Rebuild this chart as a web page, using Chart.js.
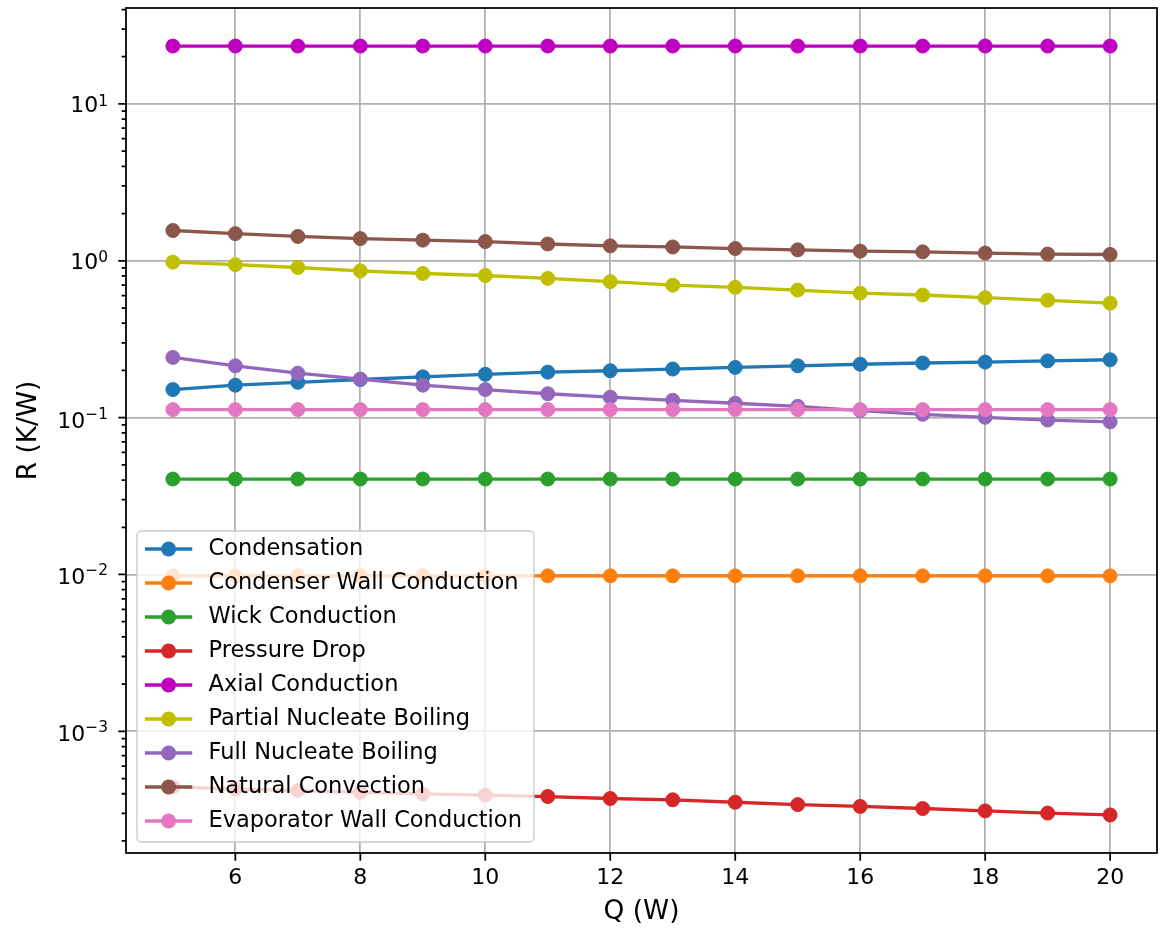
<!DOCTYPE html>
<html>
<head>
<meta charset="utf-8">
<script src="https://cdn.jsdelivr.net/npm/chart.js@4.4.1/dist/chart.umd.min.js"></script>
<style>
  body { margin: 0; background: #fff; }
  canvas { display: block; }
</style>
</head>
<body>
<canvas id="myChart" width="1171" height="928"></canvas>
<script>
// heat load Q (W)
var heatLoad = [5, 6, 7, 8, 9, 10, 11, 12, 13, 14, 15, 16, 17, 18, 19, 20];

// thermal resistances R (K/W)
var condensation = [0.151, 0.161, 0.168, 0.175, 0.182, 0.189, 0.195, 0.199, 0.204, 0.209, 0.214, 0.219, 0.223, 0.226, 0.230, 0.234];
var condenserWall = [0.0098, 0.0098, 0.0098, 0.0098, 0.0098, 0.0098, 0.0098, 0.0098, 0.0098, 0.0098, 0.0098, 0.0098, 0.0098, 0.0098, 0.0098, 0.0098];
var wickConduction = [0.0406, 0.0406, 0.0406, 0.0406, 0.0406, 0.0406, 0.0406, 0.0406, 0.0406, 0.0406, 0.0406, 0.0406, 0.0406, 0.0406, 0.0406, 0.0406];
var pressureDrop = [4.42e-4, 4.29e-4, 4.19e-4, 4.09e-4, 3.99e-4, 3.92e-4, 3.84e-4, 3.73e-4, 3.66e-4, 3.53e-4, 3.41e-4, 3.32e-4, 3.22e-4, 3.11e-4, 3.01e-4, 2.93e-4];
var axialConduction = [23.4, 23.4, 23.4, 23.4, 23.4, 23.4, 23.4, 23.4, 23.4, 23.4, 23.4, 23.4, 23.4, 23.4, 23.4, 23.4];
var partialBoiling = [0.98, 0.945, 0.906, 0.862, 0.830, 0.806, 0.772, 0.736, 0.699, 0.677, 0.651, 0.622, 0.605, 0.582, 0.560, 0.537];
var fullBoiling = [0.242, 0.214, 0.192, 0.176, 0.161, 0.151, 0.142, 0.135, 0.129, 0.1235, 0.118, 0.111, 0.105, 0.1005, 0.0965, 0.094];
var naturalConvection = [1.56, 1.49, 1.43, 1.385, 1.354, 1.326, 1.28, 1.245, 1.225, 1.197, 1.174, 1.152, 1.14, 1.12, 1.103, 1.097];
var evaporatorWall = [0.1125, 0.1125, 0.1125, 0.1125, 0.1125, 0.1125, 0.1125, 0.1125, 0.1125, 0.1125, 0.1125, 0.1125, 0.1125, 0.1125, 0.1125, 0.1125];

var seriesNames = ['Condensation', 'Condenser Wall Conduction', 'Wick Conduction', 'Pressure Drop',
  'Axial Conduction', 'Partial Nucleate Boiling', 'Full Nucleate Boiling', 'Natural Convection',
  'Evaporator Wall Conduction'];
var seriesValues = [condensation, condenserWall, wickConduction, pressureDrop, axialConduction,
  partialBoiling, fullBoiling, naturalConvection, evaporatorWall];
var seriesColors = ['#1f77b4', '#ff7f0e', '#2ca02c', '#d62728', '#bf00bf', '#bfbf00', '#9467bd', '#8c564b', '#e377c2'];

// axis ticks
var xTickValues = [6, 8, 10, 12, 14, 16, 18, 20];
var yDecades = [1e-4, 1e-3, 1e-2, 1e-1, 1, 10];
var yExponents = ['\u22124', '\u22123', '\u22122', '\u22121', '0', '1'];
var yMinorSteps = [2, 3, 4, 5, 6, 7, 8, 9];

var X_MIN = 4.25, X_MAX = 20.75;
var Y_MIN = 1.676e-4, Y_MAX = 40.9;
var FONT = "'DejaVu Sans', sans-serif";

Chart.defaults.font.family = FONT;
Chart.defaults.color = '#000';

function isMajor(v) {
  var l = Math.log10(v);
  return Math.abs(l - Math.round(l)) < 1e-6;
}

var yTickValues = [];
yDecades.forEach(function (d) {
  if (d >= Y_MIN && d <= Y_MAX) yTickValues.push(d);
  yMinorSteps.forEach(function (m) {
    var v = d * m;
    if (v >= Y_MIN && v <= Y_MAX) yTickValues.push(v);
  });
});

var datasets = seriesNames.map(function (name, i) {
  return {
    label: name,
    data: heatLoad.map(function (q, j) { return { x: q, y: seriesValues[i][j] }; }),
    borderColor: seriesColors[i],
    backgroundColor: seriesColors[i],
    pointBackgroundColor: seriesColors[i],
    pointBorderColor: seriesColors[i],
    borderWidth: 3.3,
    borderJoinStyle: 'round',
    pointRadius: 7,
    pointBorderWidth: 1,
    tension: 0,
    order: seriesNames.length - i
  };
});

var mplLook = {
  id: 'mplLook',
  afterDatasetsDraw: function (chart) {
    var c = chart.ctx, a = chart.chartArea;
    var xs = chart.scales.x, ys = chart.scales.y;
    c.save();

    // spines
    c.strokeStyle = '#000';
    c.lineWidth = 1.76;
    c.strokeRect(a.left, a.top, a.right - a.left, a.bottom - a.top);

    // tick marks
    c.beginPath();
    xTickValues.forEach(function (v) {
      var px = xs.getPixelForValue(v);
      c.moveTo(px, a.bottom);
      c.lineTo(px, a.bottom + 7.7);
    });
    ys.ticks.forEach(function (t) {
      var py = ys.getPixelForValue(t.value);
      c.moveTo(a.left, py);
      c.lineTo(a.left - (isMajor(t.value) ? 7.7 : 4.4), py);
    });
    c.stroke();

    // y tick labels 10^n
    c.fillStyle = '#000';
    c.textAlign = 'right';
    c.textBaseline = 'alphabetic';
    yDecades.forEach(function (d, i) {
      if (d < Y_MIN || d > Y_MAX) return;
      var py = ys.getPixelForValue(d);
      var exp = yExponents[i];
      var neg = exp.charAt(0) === '\u2212';
      var right = 108;
      c.font = '15.4px ' + FONT;
      var supW = c.measureText(exp).width;
      c.fillText(exp, right, py + (neg ? 1 : 1.7));
      c.font = '22px ' + FONT;
      c.fillText('10', right - supW, py + (neg ? 10 : 8.2));
    });

    // legend
    c.font = '22.5px ' + FONT;
    var maxW = 0;
    seriesNames.forEach(function (n) { maxW = Math.max(maxW, c.measureText(n).width); });
    var boxL = a.left + 11, boxT = 531, boxB = 842;
    var textX = 208.5;
    var boxR = textX + maxW + 12;
    c.beginPath();
    c.roundRect(boxL, boxT, boxR - boxL, boxB - boxT, 4.4);
    c.fillStyle = 'rgba(255,255,255,0.8)';
    c.fill();
    c.lineWidth = 1.76;
    c.strokeStyle = 'rgba(204,204,204,0.8)';
    c.stroke();

    c.textAlign = 'left';
    c.textBaseline = 'middle';
    seriesNames.forEach(function (n, i) {
      var y = 549 + i * 34;
      c.strokeStyle = seriesColors[i];
      c.fillStyle = seriesColors[i];
      c.lineWidth = 3.3;
      c.lineCap = 'square';
      c.beginPath();
      c.moveTo(146.6, y);
      c.lineTo(190.6, y);
      c.stroke();
      c.beginPath();
      c.arc(168.6, y, 7.5, 0, Math.PI * 2);
      c.fill();
      c.fillStyle = '#000';
      c.fillText(n, textX, y);
    });
    c.restore();
  }
};

var ctx = document.getElementById('myChart');
var chart = new Chart(ctx, {
  type: 'line',
  data: { datasets: datasets },
  options: {
    responsive: false,
    animation: false,
    layout: { padding: { top: 5, right: 14, left: 0, bottom: 0 } },
    plugins: {
      legend: { display: false },
      tooltip: { enabled: false }
    },
    scales: {
      x: {
        type: 'linear',
        min: X_MIN,
        max: X_MAX,
        afterFit: function (s) { s.height = 75; },
        afterBuildTicks: function (s) {
          s.ticks = xTickValues.map(function (v) { return { value: v }; });
        },
        grid: { color: '#b0b0b0', lineWidth: 1.76, drawTicks: false },
        border: { display: false },
        ticks: { padding: 11.7, font: { size: 22 }, color: '#000', maxRotation: 0, autoSkip: false },
        title: { display: true, text: 'Q (W)', font: { size: 26.4 }, color: '#000', padding: { top: 0, bottom: 0 } }
      },
      y: {
        type: 'logarithmic',
        min: Y_MIN,
        max: Y_MAX,
        afterFit: function (s) { s.width = 126; },
        afterBuildTicks: function (s) {
          s.ticks = yTickValues.map(function (v) { return { value: v }; });
        },
        grid: {
          color: function (g) { return g.tick && isMajor(g.tick.value) ? '#b0b0b0' : 'rgba(0,0,0,0)'; },
          lineWidth: 1.76,
          drawTicks: false
        },
        border: { display: false },
        ticks: { display: false },
        title: { display: true, text: 'R (K/W)', font: { size: 26.4 }, color: '#000', padding: { top: 13.6, bottom: 0 } }
      }
    }
  },
  plugins: [mplLook]
});
</script>
</body>
</html>
